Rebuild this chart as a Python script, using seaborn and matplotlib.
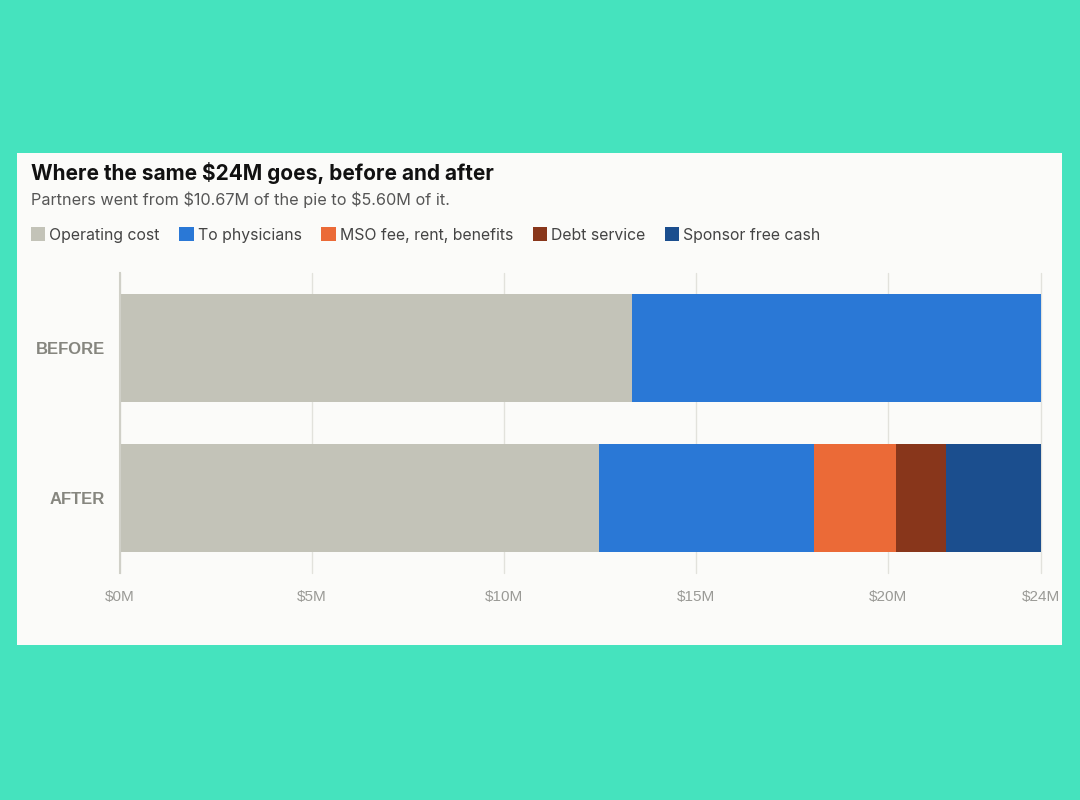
import seaborn as sns
import pandas as pd
import matplotlib.pyplot as plt
from matplotlib.patches import Rectangle, Patch

# values in $M
stages = ['BEFORE', 'AFTER']
segments = ['Operating cost', 'To physicians', 'MSO fee, rent, benefits', 'Debt service', 'Sponsor free cash']
before_vals = [13.33, 10.67, 0, 0, 0]
after_vals = [12.49, 5.60, 2.12, 1.32, 2.47]
colors = ['#C3C3B8', '#2A78D6', '#EB6A37', '#88361B', '#1B4E8E']
xticks = [0, 5, 10, 15, 20, 24]
xtick_labels = ['$0M', '$5M', '$10M', '$15M', '$20M', '$24M']

rows = []
for stage, vals in zip(stages, [before_vals, after_vals]):
    total = 0
    for seg, v in zip(segments, vals):
        total += v
        rows.append({'stage': stage, 'segment': seg, 'value': v, 'cum': total})
df = pd.DataFrame(rows)

sns.set_style('white')
plt.rcParams['font.family'] = ['Inter', 'DejaVu Sans']

fig = plt.figure(figsize=(10.8, 8), dpi=100, facecolor='#45E3BE')
W, H = 1080, 800
# white card
fig.patches.append(Rectangle((17 / W, 1 - 645 / H), (1062 - 17) / W, (645 - 153) / H,
                             transform=fig.transFigure, facecolor='#FBFBF9', edgecolor='none', zorder=-1))

ax = fig.add_axes([120 / W, 1 - 573 / H, (1041 - 120) / W, (573 - 273) / H])
ax.set_facecolor('none')
ax.set_zorder(2)

# stacked bars: draw cumulative totals from the last segment back to the first
for seg, col in reversed(list(zip(segments, colors))):
    sub = df[(df['segment'] == seg) & (df['value'] > 0)]
    sns.barplot(data=sub, x='cum', y='stage', order=stages, color=col,
                width=0.716, saturation=1, ax=ax, zorder=3, linewidth=0)

ax.set_xlim(0, 24)
ax.set_ylim(1.5, -0.5)
ax.set_xticks(xticks)
ax.set_xticklabels(xtick_labels, family=['Liberation Sans'], fontsize=11, color='#9A9A96')
ax.set_yticks([0, 1])
ax.set_yticklabels(stages, family=['Liberation Sans'], fontsize=12, fontweight='bold', color='#86867F')
ax.tick_params(axis='both', length=0)
ax.tick_params(axis='x', pad=12)
ax.tick_params(axis='y', pad=11)
ax.set_xlabel('')
ax.set_ylabel('')
ax.grid(axis='x', color='#E2E2DC', linewidth=1, zorder=0)
ax.set_axisbelow(True)
for gl in ax.get_xgridlines():
    gl.set_clip_on(False)
for s in ['top', 'right', 'bottom']:
    ax.spines[s].set_visible(False)
ax.spines['left'].set_color('#D0D0C8')
ax.spines['left'].set_linewidth(1.5)
ax.spines['left'].set_zorder(4)

fig.text(31 / W, 1 - 173 / H, 'Where the same $24M goes, before and after',
         fontsize=15, fontweight='bold', color='#111111', va='center')
fig.text(31 / W, 1 - 200 / H, r'Partners went from \$10.67M of the pie to \$5.60M of it.',
         fontsize=11.7, color='#555555', va='center')

handles = [Patch(facecolor=c, edgecolor='none', label=s) for s, c in zip(segments, colors)]
leg = fig.legend(handles=handles, loc='center left', bbox_to_anchor=(31 / W, 1 - 235 / H),
                 ncol=5, frameon=False, fontsize=11.4, handlelength=0.9, handleheight=0.9,
                 handletextpad=0.25, columnspacing=1.25, borderpad=0, borderaxespad=0)
for t in leg.get_texts():
    t.set_color('#444444')

fig.savefig('out.png', dpi=100, facecolor=fig.get_facecolor())
